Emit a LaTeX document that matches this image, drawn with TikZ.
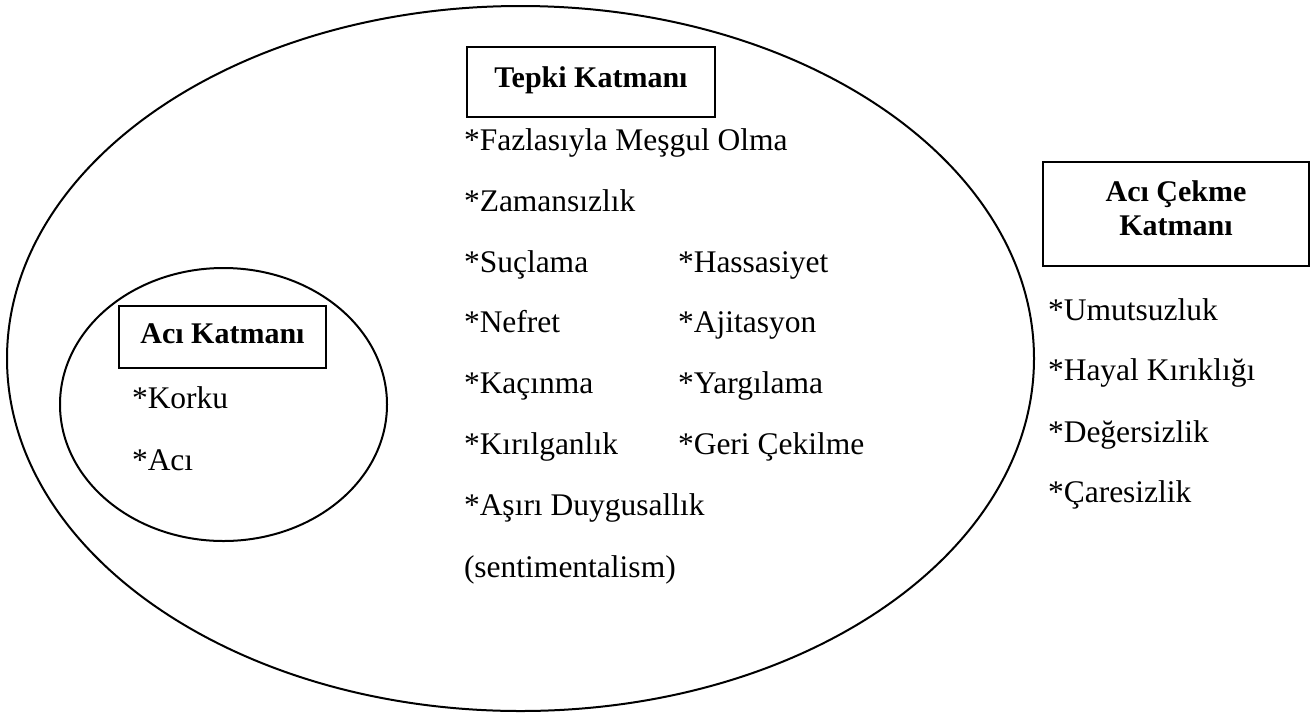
\documentclass[tikz,border=0pt]{standalone}
\usepackage{fontspec}
\setmainfont{Liberation Serif}
\begin{document}
\begin{tikzpicture}[x=1pt,y=-1pt,
  line width=2pt,
  item/.style={anchor=base west,inner sep=0pt,font=\fontsize{31.5}{37}\selectfont},
  head/.style={anchor=base,inner sep=0pt,font=\fontsize{30}{34}\bfseries},
  hbox/.style={draw,inner sep=0pt}]
\useasboundingbox (0,0) rectangle (1314,713);
% ellipses
\draw (520.5,358.5) ellipse [x radius=513.5pt, y radius=352.5pt];
\draw (223.5,404.5) ellipse [x radius=163.5pt, y radius=136.5pt];
% boxes
\node[hbox,minimum width=248pt,minimum height=70pt] (tepkibox) at (591,82) {};
\node[hbox,minimum width=266pt,minimum height=104pt] (cekmebox) at (1176,214) {};
\node[hbox,minimum width=207pt,minimum height=62pt] (acibox) at (222.5,337) {};
\node[head] (tepki) at (591,87) {Tepki Katmanı};
\node[head] (cekme1) at (1176,201) {Acı Çekme};
\node[head] (cekme2) at (1176,235) {Katmanı};
\node[head] (aci) at (222.5,343) {Acı Katmanı};
% Tepki items
\node[item] (t1) at (463,150) {*Fazlasıyla Meşgul Olma};
\node[item] (t2) at (463,211) {*Zamansızlık};
\node[item] (t3) at (463,272) {*Suçlama};
\node[item] (t4) at (463,332) {*Nefret};
\node[item] (t5) at (463,393) {*Kaçınma};
\node[item] (t6) at (463,454) {*Kırılganlık};
\node[item] (t7) at (463,515) {*Aşırı Duygusallık};
\node[item] (t8) at (463,577) {(sentimentalism)};
\node[item] (u1) at (677,272) {*Hassasiyet};
\node[item] (u2) at (677,332) {*Ajitasyon};
\node[item] (u3) at (677,393) {*Yargılama};
\node[item] (u4) at (677,454) {*Geri Çekilme};
% Acı Çekme items
\node[item] (c1) at (1047,320) {*Umutsuzluk};
\node[item] (c2) at (1047,380) {*Hayal Kırıklığı};
\node[item] (c3) at (1047,442) {*Değersizlik};
\node[item] (c4) at (1047,502) {*Çaresizlik};
% Acı items
\node[item] (a1) at (131,408) {*Korku};
\node[item] (a2) at (131,470) {*Acı};
\end{tikzpicture}
\end{document}
